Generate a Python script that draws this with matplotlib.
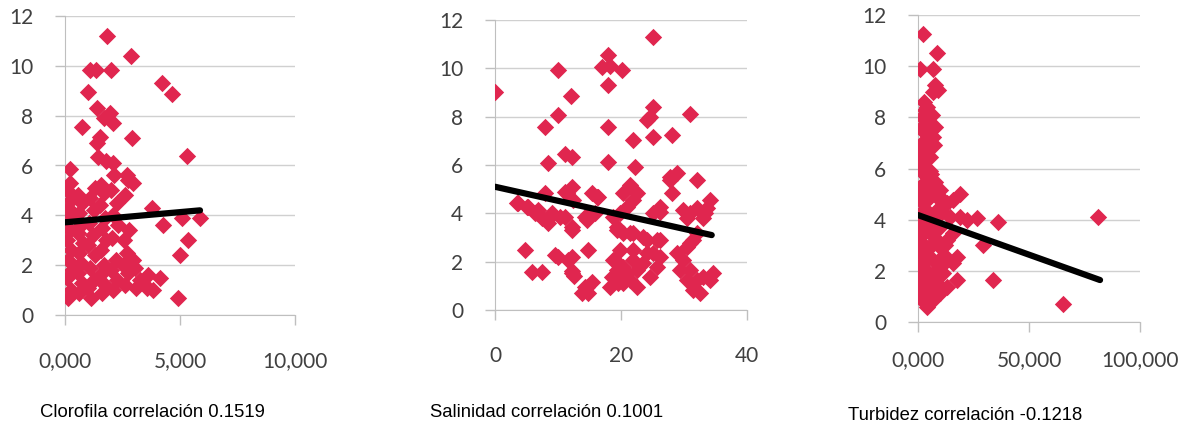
import numpy as np
import matplotlib
matplotlib.use("Agg")
import matplotlib.pyplot as plt
from matplotlib import font_manager as fm

plt.rcParams['font.family'] = ['Lato', 'DejaVu Sans']

# --- Clorofila ---
clor_x = [1830, 2870, 1100, 1350, 2000, 4220, 4650, 1000, 740, 1390, 1960, 2090, 1700, 1520,
          1390, 2910, 1440, 2090, 1800, 5300, 220, 2960, 2700,
          3780, 4270, 5090, 5870, 5350, 5000, 4920, 4130, 3830, 3400, 2960,
          150, 250, 100, 300, 150, 250, 100, 200, 80, 300, 150, 250, 100, 200,
          600, 750, 550, 700, 600, 800, 550, 700, 600, 750, 550,
          1150, 1000, 1250, 1100, 1300, 1000, 1200, 1050, 1250, 1100, 1300,
          1600, 1750, 1500, 1700, 1550, 1800, 1600, 1750, 1500, 1700, 1550,
          2100, 2250, 2000, 2200, 2050, 2300, 2100, 2250, 2000, 2150,
          2600, 2750, 2500, 2700, 2550, 2800, 2600, 2750,
          3100, 3250, 3050, 3550, 3600]
clor_y = [11.2, 10.4, 9.85, 9.85, 9.85, 9.3, 8.85, 8.95, 7.55, 8.3, 8.1, 7.7, 7.9, 7.15,
          6.9, 7.1, 6.35, 6.1, 6.2, 6.4, 5.85, 5.3, 5.6,
          4.3, 3.6, 3.9, 3.9, 3.0, 2.4, 0.68, 1.5, 1.0, 1.3, 2.2,
          0.7, 1.0, 1.5, 1.8, 2.2, 2.6, 3.0, 3.4, 3.8, 4.0, 4.3, 4.6, 5.0, 5.3,
          0.9, 1.3, 1.7, 2.1, 2.5, 2.9, 3.3, 3.6, 4.1, 4.5, 4.8,
          0.7, 1.1, 1.4, 1.9, 2.4, 2.8, 3.2, 3.7, 4.2, 4.7, 5.1,
          0.9, 1.2, 1.6, 2.0, 2.6, 3.0, 3.5, 3.9, 4.4, 4.9, 5.2,
          1.0, 1.4, 1.8, 2.2, 3.1, 3.6, 4.0, 4.5, 5.0, 5.6,
          1.2, 1.7, 2.0, 2.5, 3.0, 3.4, 4.8, 5.4,
          1.1, 1.4, 1.9, 1.1, 1.6]
clor_trend_x = [0, 5870]
clor_trend_y = [3.72, 4.2]

# --- Salinidad ---
sal_x = [0, 10, 12.1, 10, 7.9, 8.4, 11.1, 12.2,
         17.9, 17.0, 18.3, 20.2, 17.9, 25.1, 17.9, 17.9,
         25.1, 24.6, 24.1, 21.9, 25.1, 28.1, 31.0, 22.2,
         27.8, 28.9, 28.1, 32.1, 34.1,
         4.8, 5.9, 7.4, 9.5, 12.3, 12.3, 12.6, 14.8, 13.8, 14.6, 15.4,
         3.7, 5.2, 6.3, 7.5, 8.4, 6.8, 9.0, 11.1, 12.2, 11.1, 12.2, 7.9, 15.4, 16.4, 14.3, 15.9,
         10, 11.6, 12.2, 14.3, 14.8, 19.1, 18.6, 19.5,
         21.4, 20.3, 22.5, 27.8, 33.7, 26.2, 29.8, 30.5,
         19.4, 21.4, 23.5, 25.7, 19.8, 21.9, 24.1, 26.2,
         18.7, 20.3, 22.5, 19.4, 21.4, 24.6,
         28.9, 29.8, 29.4, 31.0, 30.5, 32.1, 33.0, 31.4, 32.5, 34.1, 34.6, 30.5, 31.4,
         31, 32, 33, 33.3, 32.1, 31,
         25.1, 26.2,
         21.9, 20.9, 19.8, 18.7, 19.4, 20.3, 21.9, 24.1, 26.2, 25.1, 25.7, 23.5, 21.9,
         20.9, 19.4, 20.3, 22.5, 18.3,
         16.2, 15.1, 14.6, 12.4, 11.4, 12.2, 10.3, 8.3, 6.7, 5.1, 3.5]
sal_y = [9.0, 9.93, 8.85, 8.07, 7.57, 6.07, 6.45, 6.33,
         10.55, 10.05, 10.1, 9.93, 9.3, 11.3, 7.57, 6.12,
         8.4, 8.0, 7.86, 7.03, 7.15, 7.24, 8.1, 5.92,
         5.5, 5.65, 4.84, 5.38, 4.55,
         2.48, 1.57, 1.57, 2.28, 2.2, 1.6, 1.4, 2.48, 0.7, 0.95, 1.15,
         4.43, 4.26, 4.0, 3.8, 3.6, 4.14, 4.0, 3.85, 3.43, 4.88, 5.1, 4.84, 4.84, 4.68, 3.85, 4.0,
         2.2, 2.07, 1.53, 0.95, 0.7, 2.07, 1.37, 1.12,
         5.17, 4.84, 4.84, 5.38, 4.22, 4.05, 4.14, 3.8,
         3.43, 3.18, 3.02, 2.9, 2.48, 2.48, 2.36, 2.2,
         2.07, 1.78, 1.65, 1.37, 1.24, 1.37,
         2.36, 2.07, 1.65, 1.65, 1.24, 1.24, 1.37, 0.83, 0.7, 1.24, 1.53, 2.6, 2.9,
         4.0, 4.2, 3.8, 4.0, 3.18, 2.77,
         4.0, 4.26,
         4.55, 4.26, 4.0, 3.85, 3.3, 3.18, 3.18, 2.9, 2.9, 2.36, 1.78, 1.94, 2.07,
         1.53, 1.65, 1.12, 0.95, 0.95,
         4.68, 4.0, 3.72, 4.55, 4.84, 3.3, 3.85, 3.72, 4.0, 4.26, 4.43]
sal_trend_x = [0, 34.4]
sal_trend_y = [5.1, 3.1]

# --- Turbidez ---
turb_x = [2250, 900, 8550, 6750, 7650, 6750, 9000,
          3150, 1800, 6300, 4500, 7650, 3150, 6750, 4500, 5400, 1800, 3150, 900, 4050, 7650, 900,
          9900, 18900, 15750, 13050, 5400, 2250, 900, 8550,
          18900, 22050, 26550, 36000, 81000, 29250, 33750, 65250,
          15750, 13050, 9900, 17550, 15750, 17550, 13050, 9900, 6750, 4050,
          300, 900, 300, 900, 200, 1800, 400,
          5400, 8550, 4050, 6750, 9900, 5400, 8550, 4050, 6750, 11250, 13050, 9900, 6750, 14400,
          11250, 8550,
          2700, 4000, 2000, 3600, 5000, 2700, 3000, 4500, 2500, 3000, 2000, 3500, 2500, 6000,
          7500, 10800, 12000, 4000, 7000, 11500,
          1500, 3000, 1200, 2800, 1000, 3300, 1600, 2600, 1300, 6000, 7200, 5200]
turb_y = [11.25, 9.9, 10.5, 9.9, 9.26, 9.0, 9.06,
          8.28, 8.0, 8.09, 7.77, 7.62, 7.38, 7.23, 6.99, 6.45, 6.33, 6.05, 5.94, 5.67, 5.48, 5.28,
          5.16, 5.0, 4.77, 4.65, 4.9, 4.65, 4.24, 4.38,
          4.1, 3.98, 4.06, 3.9, 4.1, 3.0, 1.64, 0.7,
          3.48, 3.2, 2.93, 2.54, 2.3, 1.64, 1.37, 1.13, 0.86, 0.59,
          1.13, 1.52, 2.15, 2.7, 3.2, 3.71, 3.98,
          3.48, 3.2, 2.81, 2.42, 2.15, 1.76, 1.52, 1.25, 1.25, 1.91, 2.42, 3.71, 4.1, 4.1,
          4.77, 4.88,
          8.6, 8.4, 7.0, 6.7, 5.2, 5.0, 4.4, 3.9, 3.0, 2.4, 1.8, 1.0, 0.8, 3.0,
          3.8, 4.3, 3.0, 2.0, 1.9, 2.6,
          7.6, 7.0, 6.7, 5.4, 4.9, 3.5, 2.9, 2.0, 1.8, 5.8, 6.9, 5.9]
turb_trend_x = [0, 82000]
turb_trend_y = [4.18, 1.64]

panels = [
    (clor_x, clor_y, clor_trend_x, clor_trend_y, [0, 5000, 10000], ['0,000', '5,000', '10,000'],
     [65/1195, 121/436, 230/1195, 299/436], 'Clorofila correlación 0.1519', 40, 412, 19),
    (sal_x, sal_y, sal_trend_x, sal_trend_y, [0, 20, 40], ['0', '20', '40'],
     [495/1195, 126/436, 252/1195, 290/436], 'Salinidad correlación 0.1001', 430, 412, 19),
    (turb_x, turb_y, turb_trend_x, turb_trend_y, [0, 50000, 100000], ['0,000', '50,000', '100,000'],
     [918/1195, 114/436, 222/1195, 307/436], 'Turbidez correlación -0.1218', 848, 415, 13),
]

names = {f.name for f in fm.fontManager.ttflist}
if 'Liberation Sans Narrow' in names:
    cap_family, cap_size = 'Liberation Sans Narrow', 15.5
else:
    cap_family, cap_size = 'Liberation Sans', 13.3

fig = plt.figure(figsize=(11.95, 4.36), dpi=100)
grey = '#BFBFBF'
for xs, ys, tx, ty, xt, xl, pos, cap, cx, cy, xpad in panels:
    ax = fig.add_axes(pos)
    ax.scatter(xs, ys, marker='D', s=78, color='#E0264F', linewidths=0, zorder=3)
    ax.plot(tx, ty, color='black', lw=4.5, solid_capstyle='round', zorder=4)
    ax.set_xlim(xt[0], xt[-1])
    ax.set_ylim(0, 12)
    ax.set_yticks(range(0, 13, 2))
    ax.set_xticks(xt)
    ax.set_xticklabels(xl)
    ax.grid(axis='y', color='#D0D0D0', lw=1)
    ax.set_axisbelow(True)
    for s in ['top', 'right']:
        ax.spines[s].set_visible(False)
    for s in ['left', 'bottom']:
        ax.spines[s].set_color(grey)
    ax.tick_params(axis='both', direction='out', color=grey, length=7, width=1,
                   labelsize=15, labelcolor='#404040')
    ax.tick_params(axis='y', pad=16)
    ax.tick_params(axis='x', pad=xpad)
    fig.text(cx / 1195, 1 - cy / 436, cap, ha='left', va='center', fontsize=cap_size,
             family=cap_family, color='black')

fig.savefig('out.png', dpi=100)
